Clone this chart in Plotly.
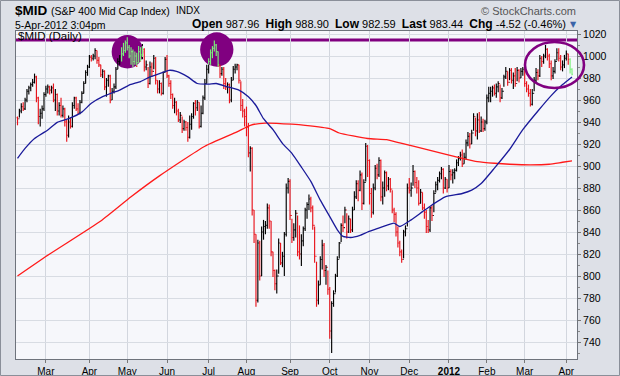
import math
import pandas as pd
import plotly.graph_objects as go

# ---------------- data ----------------
HOLIDAYS = ["2011-02-21", "2011-04-22", "2011-05-30", "2011-07-04", "2011-09-05",
            "2011-11-24", "2011-12-26", "2012-01-02", "2012-01-16", "2012-02-20"]
dates = [d for d in pd.bdate_range("2011-02-07", "2012-04-05")
         if d.strftime("%Y-%m-%d") not in HOLIDAYS]

close = [943, 950, 954, 952, 960, 968, 971, 974, 976, 981,
         962, 945, 948, 952, 965, 970, 972, 969, 971, 960,
         965, 950, 955, 946, 952, 940, 928, 940, 936, 955,
         962, 952, 948, 958, 966, 975, 985, 990, 999, 998,
         1000, 1005, 996, 992, 983, 986, 972, 978, 982, 960,
         968, 972, 988, 995, 999, 1002, 1005, 1012, 1008, 1000,
         1004, 995, 1000, 994, 1004, 1001, 1006, 990, 992, 975,
         990, 986, 998, 978, 970, 975, 966, 985, 997, 982,
         975, 965, 955, 958, 950, 942, 946, 934, 940, 935,
         926, 938, 945, 957, 953, 958, 936, 948, 962, 975,
         988, 995, 1003, 1007, 1010, 1004, 992, 984, 988, 975,
         972, 974, 960, 978, 988, 990, 992, 978, 955, 950,
         945, 935, 912, 916, 860, 838, 778, 830, 800, 840,
         845, 846, 862, 850, 822, 805, 793, 800, 830, 812,
         818, 838, 880, 886, 855, 835, 842, 857, 822, 820,
         832, 843, 860, 865, 870, 862, 846, 818, 778, 792,
         815, 828, 805, 808, 788, 750, 775, 784, 800, 815,
         830, 846, 844, 860, 840, 852, 842, 860, 872, 884,
         878, 892, 866, 885, 918, 905, 875, 858, 880, 898,
         892, 905, 872, 880, 894, 882, 888, 879, 860, 856,
         840, 830, 822, 815, 840, 843, 880, 878, 880, 895,
         885, 880, 866, 876, 862, 858, 845, 842, 862, 855,
         875, 883, 887, 893, 897, 880, 888, 880, 895, 892,
         894, 896, 903, 907, 910, 902, 908, 921, 927, 920,
         930, 945, 932, 942, 932, 940, 934, 940, 962, 966,
         968, 971, 966, 972, 975, 962, 968, 981, 986, 976,
         987, 978, 982, 975, 987, 980, 986, 988, 975, 970,
         966, 956, 966, 978, 985, 982, 998, 995, 1000, 1006,
         1000, 993, 982, 986, 995, 1003, 998, 990, 992, 998,
         1002, 997, 987.96, 983.44]

high = [945, 952, 957, 958, 962, 970, 973, 976, 979, 984,
        982, 963, 952, 955, 967, 973, 974, 973, 973, 975,
        970, 966, 958, 962, 955, 953, 942, 946, 944, 958,
        963, 963, 957, 960, 968, 977, 987, 992, 1001, 1001,
        1002, 1007, 1005, 999, 992, 988, 987, 980, 983, 983,
        971, 975, 990, 998, 1001, 1008, 1012, 1014, 1017, 1010,
        1008, 1006, 1004, 1003, 1009, 1008, 1011, 1007, 996, 990,
        995, 994, 1001, 999, 978, 978, 976, 986, 999, 1001,
        983, 978, 966, 962, 959, 952, 949, 945, 942, 941,
        940, 946, 948, 958, 960, 960, 958, 955, 964, 979,
        992, 998, 1006, 1009, 1014, 1011, 1004, 992, 990, 990,
        980, 976, 975, 981, 991, 993, 993, 992, 977, 961,
        952, 954, 939, 918, 917, 860, 838, 833, 832, 845,
        851, 850, 866, 865, 850, 822, 806, 806, 834, 830,
        822, 840, 884, 889, 888, 852, 848, 860, 855, 846,
        838, 845, 862, 867, 874, 872, 864, 845, 813, 796,
        818, 833, 830, 810, 805, 790, 777, 787, 802, 818,
        831, 848, 855, 863, 857, 855, 852, 863, 877, 887,
        887, 896, 894, 888, 921, 919, 906, 880, 884, 901,
        902, 908, 906, 886, 896, 895, 890, 889, 878, 862,
        858, 845, 832, 824, 842, 846, 884, 889, 885, 901,
        896, 890, 887, 879, 876, 866, 860, 851, 863, 864,
        878, 886, 890, 895, 899, 898, 890, 888, 901, 897,
        897, 898, 906, 909, 913, 915, 912, 924, 931, 930,
        933, 948, 944, 948, 949, 945, 943, 942, 965, 972,
        972, 973, 974, 975, 977, 974, 971, 983, 990, 986,
        989, 989, 985, 989, 990, 988, 989, 990, 990, 977,
        974, 970, 970, 981, 989, 988, 1001, 1000, 1002, 1010,
        1007, 1002, 996, 990, 997, 1007, 1007, 1001, 996, 1001,
        1005, 1002, 998, 988.90]

low = [937, 944, 948, 950, 951, 958, 965, 968, 972, 975,
       958, 938, 936, 943, 950, 963, 966, 965, 966, 958,
       950, 946, 946, 944, 944, 936, 922, 926, 934, 935,
       952, 950, 947, 947, 957, 966, 975, 982, 989, 995,
       996, 997, 993, 990, 981, 980, 969, 963, 972, 957,
       960, 966, 970, 988, 992, 995, 1000, 1003, 1005, 998,
       992, 990, 992, 990, 994, 995, 997, 986, 987, 971,
       974, 981, 988, 974, 966, 966, 964, 965, 985, 980,
       972, 961, 952, 948, 946, 940, 939, 930, 932, 932,
       922, 925, 933, 943, 946, 950, 934, 935, 947, 960,
       975, 984, 992, 998, 1004, 1000, 990, 980, 982, 970,
       969, 966, 957, 958, 978, 984, 987, 975, 950, 944,
       936, 927, 908, 895, 855, 830, 772, 776, 796, 800,
       833, 838, 843, 843, 818, 799, 787, 784, 802, 810,
       808, 800, 836, 875, 851, 830, 832, 835, 818, 815,
       809, 827, 841, 852, 860, 858, 842, 812, 772, 774,
       792, 806, 799, 792, 783, 743, 730, 772, 785, 799,
       816, 831, 840, 848, 834, 839, 839, 840, 860, 870,
       868, 877, 860, 865, 886, 890, 865, 853, 856, 878,
       888, 890, 868, 865, 872, 877, 878, 876, 857, 849,
       836, 826, 818, 812, 816, 836, 845, 875, 872, 882,
       880, 875, 864, 866, 860, 852, 839, 839, 840, 850,
       858, 876, 878, 885, 888, 875, 879, 876, 880, 887,
       884, 888, 895, 900, 905, 899, 902, 906, 918, 916,
       920, 932, 927, 924, 930, 931, 931, 932, 938, 958,
       958, 963, 964, 962, 967, 958, 961, 972, 979, 973,
       978, 975, 970, 972, 977, 976, 980, 982, 972, 967,
       963, 954, 955, 968, 976, 978, 981, 990, 993, 998,
       996, 989, 978, 979, 984, 996, 995, 987, 986, 989,
       996, 992, 984, 982.59]

first_open = 944.0
last_open = 987.96

# moving averages, read at sample bars (bar index, value)
sma50_idx = [0, 4, 9, 16, 21, 27, 34, 39, 45, 50, 54, 59, 65, 70, 75, 80, 84, 90, 95,
             101, 105, 111, 117, 122, 126, 130, 135, 140, 145, 150, 155, 160, 165, 169,
             172, 176, 181, 185, 190, 195, 199, 202, 208, 214, 219, 226, 235, 240, 245,
             252, 260, 267, 275, 282, 288, 293]
sma50_val = [907, 916, 925, 932.7, 939.7, 943, 949, 957, 963, 966.5, 969, 973.6, 976.7,
             981, 984, 987, 986, 981, 975, 974.5, 975, 972, 969, 963, 955, 943, 933,
             920.6, 911.5, 899, 886, 869, 854, 842, 836, 835, 837, 840, 843, 846, 848,
             845, 851, 858.5, 864.6, 872, 875, 878, 884, 898, 915, 933, 950, 964, 974, 981]
sma200_idx = [0, 17, 44, 60, 75, 99, 116, 123, 131, 145, 152, 165, 170, 185, 195, 202,
              217, 235, 243, 252, 260, 271, 281, 288, 293]
sma200_val = [800, 820, 850, 872, 891, 918, 931, 937, 939, 938, 937, 934, 930, 925, 924,
              921, 914.6, 907, 904, 902.5, 901.6, 901, 901.6, 903.4, 904.6]

highlight_bars = [list(range(55, 67)), list(range(101, 107))]
last_green_bars = [292, 293]
y_ticks = list(range(740, 1021, 20))
resistance = 1014.5

assert len(dates) == len(close) == len(high) == len(low)

# ---------------- styling ----------------
W, H = 620, 376
L_M, R_M, T_M, B_M = 16, 43, 31, 17
PW, PH = W - L_M - R_M, H - T_M - B_M
BLACK, RED, GREEN = "#000000", "#e8141c", "#7cf07c"
PURPLE = "#800080"
FONT = "Liberation Sans, Arial, sans-serif"


def px_x(px):
    return (px - L_M) / PW


def px_y(py):
    return (H - B_M - py) / PH


n = len(close)
opens = [first_open] + close[:-1]
opens[-1] = last_open

circles = [dict(cx=58.1, cy=1003.9, rx=8.35, ry=15.2, bars=highlight_bars[0]),
           dict(cx=105.3, cy=1005.9, rx=8.8, ry=15.6, bars=highlight_bars[1])]

segs = {}


def add(color, x0, y0, x1, y1):
    xs, ys = segs.setdefault(color, ([], []))
    xs += [x0, x1, None]
    ys += [y0, y1, None]


TW = 0.45
for i in range(n):
    o, h, l, c = opens[i], high[i], low[i], close[i]
    base = BLACK if c >= o else RED
    if i in last_green_bars:
        base = GREEN
    zone = None
    for circ in circles:
        if i in circ["bars"]:
            dx = (i - circ["cx"]) / circ["rx"]
            if abs(dx) < 1:
                dy = circ["ry"] * math.sqrt(1 - dx * dx)
                zone = (circ["cy"] - dy, circ["cy"] + dy)
    if zone is None:
        add(base, i, l, i, h)
        add(base, i - TW, o, i, o)
        add(base, i, c, i + TW, c)
    else:
        lo, hi = zone
        a, b = max(l, lo), min(h, hi)
        if a < b:
            add(GREEN, i, a, i, b)
        if l < lo:
            add(base, i, l, i, min(h, lo))
        if h > hi:
            add(base, i, max(l, hi), i, h)
        add(GREEN if lo <= o <= hi else base, i - TW, o, i, o)
        add(GREEN if lo <= c <= hi else base, i, c, i + TW, c)

fig = go.Figure()
for color in [BLACK, RED, GREEN]:
    if color in segs:
        xs, ys = segs[color]
        fig.add_trace(go.Scatter(x=xs, y=ys, mode="lines",
                                 line=dict(color=color, width=1.15),
                                 hoverinfo="skip"))
fig.add_trace(go.Scatter(x=sma200_idx, y=sma200_val, mode="lines",
                         line=dict(color="#ff1a1a", width=1.3, shape="spline", smoothing=0.5)))
fig.add_trace(go.Scatter(x=sma50_idx, y=sma50_val, mode="lines",
                         line=dict(color="#1a1a9a", width=1.3, shape="spline", smoothing=0.5)))

# month ticks
tickvals, ticktext = [], []
for k, d in enumerate(dates):
    if k > 0 and d.month != dates[k - 1].month:
        tickvals.append(k)
        ticktext.append("<b>%d</b>" % d.year if d.month == 1 else d.strftime("%b"))

x_lo = (L_M - 17.5) / 1.8925
x_hi = x_lo + PW / 1.8925
y_top = 1020 + 3 / 1.1
y_bot = y_top - PH / 1.1

shapes = []
for circ in circles:
    shapes.append(dict(type="circle", xref="x", yref="y", layer="between",
                       x0=circ["cx"] - circ["rx"], x1=circ["cx"] + circ["rx"],
                       y0=circ["cy"] - circ["ry"], y1=circ["cy"] + circ["ry"],
                       fillcolor=PURPLE, line=dict(width=0)))
shapes.append(dict(type="line", xref="paper", yref="y", x0=0, x1=1,
                   y0=resistance, y1=resistance, layer="between",
                   line=dict(color=PURPLE, width=3)))
shapes.append(dict(type="circle", xref="paper", yref="paper", layer="above",
                   x0=px_x(525), x1=px_x(584), y0=px_y(88), y1=px_y(42),
                   line=dict(color=PURPLE, width=2.6)))
shapes.append(dict(type="rect", xref="paper", yref="paper", layer="above",
                   x0=px_x(0.5), x1=px_x(619.5), y0=px_y(375.5), y1=px_y(0.5),
                   line=dict(color="#8a8f99", width=1)))

last = n - 1
chg = close[last] - close[last - 1]
pct = chg / close[last - 1] * 100
lbl = "<span style='font-size:12px'><b>%s</b></span>"
stats = (lbl % "Open" + " %.2f  " % opens[last] + lbl % "High" + " %.2f  " % high[last]
         + lbl % "Low" + " %.2f  " % low[last] + lbl % "Last" + " %.2f  " % close[last]
         + lbl % "Chg" + " %.2f (%.2f%%)" % (chg, pct))
date_txt = "%d-%s 3:04pm" % (dates[last].day, dates[last].strftime("%b-%Y"))

ann = [
    dict(text="<b>$MID</b>", x=px_x(14), y=px_y(10), font=dict(size=13.5, family=FONT)),
    dict(text="(S&P 400 Mid Cap Index)", x=px_x(50), y=px_y(10.5), font=dict(size=10.5, family=FONT)),
    dict(text="INDX", x=px_x(175), y=px_y(10.5), font=dict(size=10, family=FONT)),
    dict(text="© StockCharts.com", x=px_x(577), y=px_y(11), xanchor="right",
         font=dict(size=11, family=FONT, color="#555555")),
    dict(text=date_txt, x=px_x(14), y=px_y(24.5), font=dict(size=10.5, family=FONT)),
    dict(text=stats, x=px_x(567), y=px_y(24), xanchor="right", font=dict(size=11, family=FONT)),
    dict(text="▼", x=px_x(573), y=px_y(25), xanchor="center",
         font=dict(size=8, family="DejaVu Sans", color="#3a64a8")),
    dict(text="$MID (Daily)", x=px_x(17), y=px_y(36), font=dict(size=11.5, family=FONT)),
]
for a in ann:
    a.setdefault("xanchor", "left")
    a.update(xref="paper", yref="paper", yanchor="middle", showarrow=False,
             borderpad=0)

fig.update_layout(
    width=W, height=H, margin=dict(l=L_M, r=R_M, t=T_M, b=B_M, pad=0, autoexpand=False),
    paper_bgcolor="#dde0e7", plot_bgcolor="#f6f7fb",
    showlegend=False, font=dict(family=FONT, size=10, color="#000000"),
    shapes=shapes, annotations=ann,
    xaxis=dict(range=[x_lo, x_hi], tickmode="array", tickvals=tickvals, ticktext=ticktext,
               automargin=False,
               showgrid=True, gridcolor="#d2d6de", gridwidth=1, zeroline=False,
               ticks="outside", ticklen=3, tickcolor="#777777",
               showline=True, linecolor="#6e737c", linewidth=1, mirror=True,
               tickfont=dict(size=10, family=FONT)),
    yaxis=dict(range=[y_bot, y_top], side="right", tickmode="array", tickvals=y_ticks,
               automargin=False,
               showgrid=True, gridcolor="#d8dce3", gridwidth=1, zeroline=False,
               ticks="outside", ticklen=3, tickcolor="#777777",
               showline=True, linecolor="#6e737c", linewidth=1, mirror=True,
               minor=dict(tick0=740, dtick=10, ticks="outside", ticklen=2,
                          tickcolor="#888888", showgrid=False),
               tickfont=dict(size=10.5, family=FONT)),
)

fig.write_html("out.html", config={"displayModeBar": False},
               post_script="document.body.style.margin='0px';")
